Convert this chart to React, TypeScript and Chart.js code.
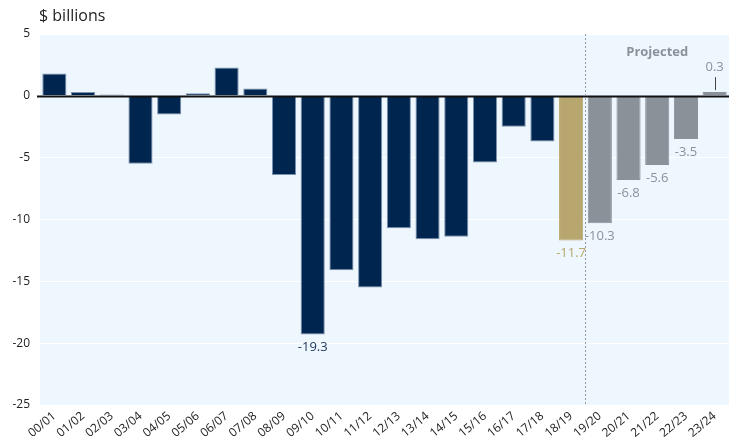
import React, { useEffect, useRef } from "react";
import { Chart, registerables } from "chart.js";

Chart.register(...registerables);

const categories = [
  "00/01", "01/02", "02/03", "03/04", "04/05", "05/06", "06/07", "07/08",
  "08/09", "09/10", "10/11", "11/12", "12/13", "13/14", "14/15", "15/16",
  "16/17", "17/18", "18/19", "19/20", "20/21", "21/22", "22/23", "23/24",
];

const balances = [
  1.8, 0.3, 0.1, -5.5, -1.5, 0.2, 2.3, 0.6,
  -6.4, -19.3, -14.1, -15.5, -10.7, -11.6, -11.4, -5.4,
  -2.5, -3.7, -11.7, -10.3, -6.8, -5.6, -3.5, 0.3,
];

// "actual" | "current" | "projected"
const barKinds = [
  "actual", "actual", "actual", "actual", "actual", "actual", "actual", "actual",
  "actual", "actual", "actual", "actual", "actual", "actual", "actual", "actual",
  "actual", "actual", "current", "projected", "projected", "projected", "projected", "projected",
];

const barLabels: (string | null)[] = [
  null, null, null, null, null, null, null, null,
  null, "-19.3", null, null, null, null, null, null,
  null, null, "-11.7", "-10.3", "-6.8", "-5.6", "-3.5", "0.3",
];

const yTicks = [5, 0, -5, -10, -15, -20, -25];

const unitLabel = "$ billions";
const projectedLabel = "Projected";

const COLORS: Record<string, string> = {
  actual: "#00264f",
  current: "#b7a66e",
  projected: "#8b9199",
};
const LABEL_COLORS: Record<string, string> = {
  actual: "#1d3558",
  current: "#b7a66e",
  projected: "#8b9199",
};
const BORDERS: Record<string, string> = {
  actual: "rgba(110,135,165,0.9)",
  current: "rgba(183,166,110,1)",
  projected: "rgba(139,145,153,1)",
};

const FONT = "'Open Sans', 'DejaVu Sans', sans-serif";

export default function App() {
  const ref = useRef<HTMLCanvasElement | null>(null);

  useEffect(() => {
    document.body.style.margin = "0";
    const canvas = ref.current!;
    const decor = {
      id: "decor",
      beforeDraw(chart: any) {
        const { ctx, chartArea } = chart;
        ctx.save();
        ctx.fillStyle = "#eef6fe";
        ctx.fillRect(chartArea.left, chartArea.top, chartArea.right - chartArea.left, chartArea.bottom - chartArea.top);
        ctx.fillStyle = "#222";
        ctx.font = `16px ${FONT}`;
        ctx.textAlign = "left";
        ctx.textBaseline = "alphabetic";
        ctx.fillText(unitLabel, 39, 21);
        ctx.restore();
      },
      afterDatasetsDraw(chart: any) {
        const { ctx, chartArea } = chart;
        const xs = chart.scales.x;
        const ys = chart.scales.y;
        const meta = chart.getDatasetMeta(0);
        ctx.save();
        // zero line
        const y0 = Math.round(ys.getPixelForValue(0)) + 0.5;
        ctx.strokeStyle = "#111";
        ctx.lineWidth = 2;
        ctx.beginPath();
        ctx.moveTo(chartArea.left - 3, y0);
        ctx.lineTo(chartArea.right, y0);
        ctx.stroke();
        // projection divider
        const firstProj = barKinds.indexOf("projected");
        const xd = Math.round(xs.getPixelForValue(firstProj - 0.5)) + 0.5;
        ctx.strokeStyle = "#9a9a9a";
        ctx.lineWidth = 1;
        ctx.setLineDash([2, 2]);
        ctx.beginPath();
        ctx.moveTo(xd, chartArea.top);
        ctx.lineTo(xd, chartArea.bottom);
        ctx.stroke();
        ctx.setLineDash([]);
        // projected text
        const lastIdx = categories.length - 1;
        const xp = (xs.getPixelForValue(firstProj) + xs.getPixelForValue(lastIdx)) / 2;
        ctx.fillStyle = "#8b9199";
        ctx.font = `bold 13px ${FONT}`;
        ctx.textAlign = "center";
        ctx.textBaseline = "middle";
        ctx.fillText(projectedLabel, xp, 52);
        // bar labels
        ctx.font = `13px ${FONT}`;
        barLabels.forEach((lab, i) => {
          if (!lab) return;
          const el = meta.data[i];
          const v = balances[i];
          ctx.fillStyle = LABEL_COLORS[barKinds[i]];
          if (v < 0) {
            ctx.fillText(lab, el.x, el.y + 13);
          } else {
            ctx.strokeStyle = "#444";
            ctx.lineWidth = 1;
            const lx = Math.round(el.x) + 0.5;
            ctx.beginPath();
            ctx.moveTo(lx, el.y - 2);
            ctx.lineTo(lx, el.y - 15);
            ctx.stroke();
            ctx.fillText(lab, el.x, el.y - 25);
          }
        });
        ctx.restore();
      },
    };

    const chart = new Chart(canvas, {
      type: "bar",
      data: {
        labels: categories,
        datasets: [
          {
            data: balances,
            backgroundColor: barKinds.map((k) => COLORS[k]),
            borderColor: barKinds.map((k) => BORDERS[k]),
            borderWidth: 1,
            barPercentage: 0.84,
            categoryPercentage: 1,
          },
        ],
      },
      options: {
        animation: false,
        responsive: false,
        maintainAspectRatio: false,
        layout: { padding: { top: 34, right: 9, left: 0, bottom: 0 } },
        plugins: { legend: { display: false }, tooltip: { enabled: false }, title: { display: false } },
        scales: {
          x: {
            grid: { display: false, drawTicks: false },
            border: { display: false },
            ticks: {
              autoSkip: false,
              maxRotation: 40,
              minRotation: 40,
              padding: 4,
              color: "#222",
              font: { size: 12, family: FONT },
            },
            afterFit(scale: any) {
              scale.height = 43;
            },
          },
          y: {
            min: -25,
            max: 5,
            afterBuildTicks(scale: any) {
              scale.ticks = yTicks.map((v) => ({ value: v }));
            },
            grid: {
              drawTicks: false,
              color: (c: any) => (c.tick && c.tick.value === 0 ? "rgba(0,0,0,0)" : "#ffffff"),
              lineWidth: 1,
            },
            border: { display: false },
            ticks: {
              padding: 10,
              color: "#222",
              font: { size: 12, family: FONT },
            },
            afterFit(scale: any) {
              scale.width = 40;
            },
          },
        },
      },
      plugins: [decor],
    } as any);
    return () => chart.destroy();
  }, []);

  return (
    <div style={{ width: 738, height: 448 }}>
      <canvas ref={ref} width={738} height={448} style={{ display: "block", width: 738, height: 448 }} />
    </div>
  );
}
